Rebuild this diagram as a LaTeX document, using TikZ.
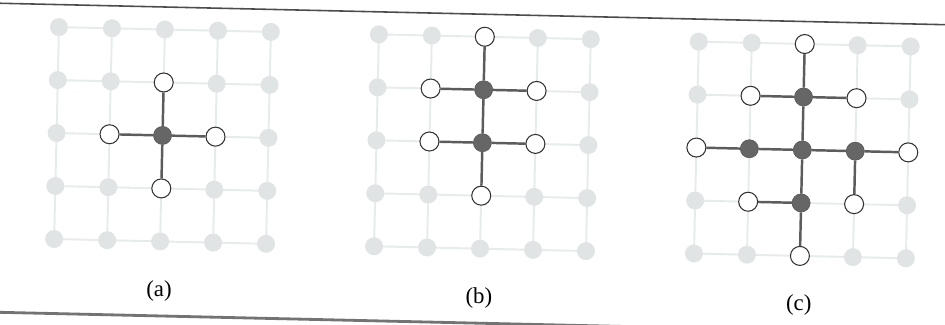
\documentclass[tikz,border=0pt]{standalone}
\usepackage{fontspec}
\setmainfont{Liberation Serif}
\definecolor{latgray}{RGB}{230,235,235}
\definecolor{sitegray}{RGB}{224,228,228}
\def\cellsz{1.06cm}
\tikzset{
  latline/.style={draw=latgray, line width=1.1pt},
  latsite/.style={circle, fill=sitegray, inner sep=0pt, minimum size=0.36cm},
  occ/.style={circle, fill=black!60, draw=black!64, line width=0.4pt, inner sep=0pt, minimum size=0.36cm},
  free/.style={circle, fill=white, draw=black!80, line width=0.6pt, inner sep=0pt, minimum size=0.38cm},
  bond/.style={draw=black!64, line width=1.4pt},
  caption/.style={font=\fontsize{13}{15}\selectfont, inner sep=0pt},
}
% 5x5 lattice of sites, named <panel>-<col>-<row>
\newcommand{\lattice}[1]{%
  \foreach \i in {0,...,4} {
    \draw[latline] (\i,0) -- (\i,4);
    \draw[latline] (0,\i) -- (4,\i);
  }
  \foreach \i in {0,...,4}
    \foreach \j in {0,...,4}
      \node[latsite] (#1-\i-\j) at (\i,\j) {};
}
\begin{document}
\begin{tikzpicture}[x=0.02cm, y=-0.02cm]
\useasboundingbox (0,0) rectangle (945,324);
\begin{scope}[rotate around={-1.3:(472,162)}]
  % rules of the figure
  \draw[black!70, line width=0.9pt] (-30,14) -- (975,14);
  \draw[black!55, line width=1.6pt] (-30,323) -- (975,323);

  % (a) a single particle and its neighbours
  \begin{scope}[shift={(56,36.5)}, x=\cellsz, y=-\cellsz]
    \lattice{a}
    \node[occ] (a-c) at (a-2-2) {};
    \node[free] (a-n) at (a-2-1) {};
    \node[free] (a-w) at (a-1-2) {};
    \node[free] (a-e) at (a-3-2) {};
    \node[free] (a-s) at (a-2-3) {};
    \foreach \t in {n,w,e,s}
      \draw[bond] (a-c) -- (a-\t);
    \node[caption] (a-cap) at (2,4.93) {(a)};
  \end{scope}

  % (b) two particles
  \begin{scope}[shift={(376,36.5)}, x=\cellsz, y=-\cellsz]
    \lattice{b}
    \node[occ] (b-u) at (b-2-1) {};
    \node[occ] (b-d) at (b-2-2) {};
    \node[free] (b-nn) at (b-2-0) {};
    \node[free] (b-uw) at (b-1-1) {};
    \node[free] (b-ue) at (b-3-1) {};
    \node[free] (b-dw) at (b-1-2) {};
    \node[free] (b-de) at (b-3-2) {};
    \node[free] (b-ss) at (b-2-3) {};
    \draw[bond] (b-nn) -- (b-u) -- (b-d) -- (b-ss);
    \draw[bond] (b-uw) -- (b-u) -- (b-ue);
    \draw[bond] (b-dw) -- (b-d) -- (b-de);
    \node[caption] (b-cap) at (2,4.93) {(b)};
  \end{scope}

  % (c) five particles
  \begin{scope}[shift={(696,36.5)}, x=\cellsz, y=-\cellsz]
    \lattice{c}
    \node[occ] (c-n) at (c-2-1) {};
    \node[occ] (c-w) at (c-1-2) {};
    \node[occ] (c-c) at (c-2-2) {};
    \node[occ] (c-e) at (c-3-2) {};
    \node[occ] (c-s) at (c-2-3) {};
    \node[free] (c-nn) at (c-2-0) {};
    \node[free] (c-nw) at (c-1-1) {};
    \node[free] (c-ne) at (c-3-1) {};
    \node[free] (c-ww) at (c-0-2) {};
    \node[free] (c-ee) at (c-4-2) {};
    \node[free] (c-sw) at (c-1-3) {};
    \node[free] (c-se) at (c-3-3) {};
    \node[free] (c-ss) at (c-2-4) {};
    \draw[bond] (c-nn) -- (c-n) -- (c-c) -- (c-s) -- (c-ss);
    \draw[bond] (c-nw) -- (c-n) -- (c-ne);
    \draw[bond] (c-ww) -- (c-w) -- (c-c) -- (c-e) -- (c-ee);
    \draw[bond] (c-e) -- (c-se);
    \draw[bond] (c-sw) -- (c-s);
    \node[caption] (c-cap) at (2,4.93) {(c)};
  \end{scope}
\end{scope}
\end{tikzpicture}
\end{document}
